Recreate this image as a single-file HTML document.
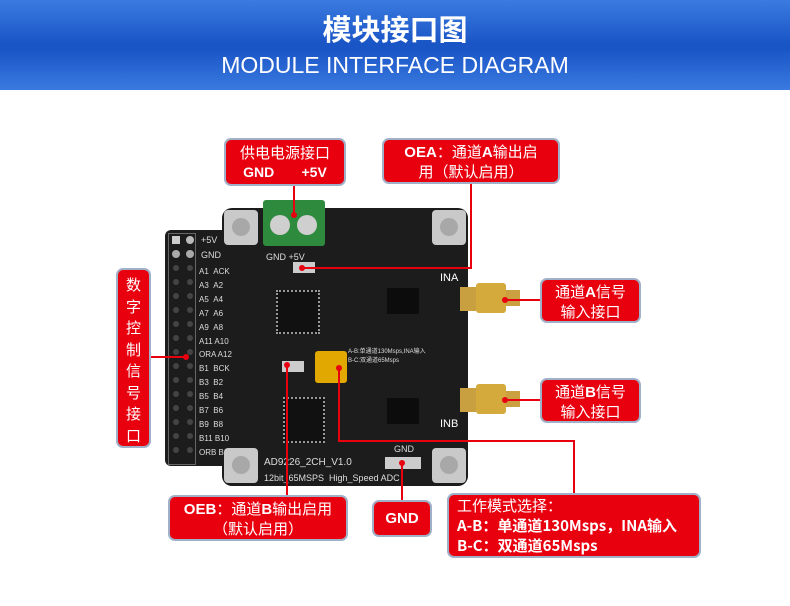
<!DOCTYPE html>
<html><head><meta charset="utf-8"><style>
*{margin:0;padding:0;box-sizing:border-box}
body{width:790px;height:606px;background:#fff;position:relative;overflow:hidden;font-family:"Liberation Sans","Noto Sans CJK SC",sans-serif}
.hdr{position:absolute;left:0;top:0;width:790px;height:90px;background:linear-gradient(#3b7be0 0%,#1a55c6 48%,#1a55c6 55%,#3a7ae0 100%)}
.t1{position:absolute;top:6px;width:790px;text-align:center;color:#fff;font-size:29px;line-height:44px;font-weight:bold;font-family:"Noto Sans CJK SC",sans-serif}
.t2{position:absolute;top:52px;width:790px;text-align:center;color:#fff;font-size:23px;line-height:26px;font-family:"Liberation Sans",sans-serif}
.box{position:absolute;background:#e8000f;border:2px solid #9fb0c8;border-radius:7px;color:#fff;font-family:"Noto Sans CJK SC",sans-serif;font-size:15px;line-height:19px;text-align:center;overflow:hidden}
.a{position:absolute}
.hole{position:absolute;width:34px;height:35px;background:#c9c9c9;border-radius:4px}
.hole:after{content:"";position:absolute;left:8px;top:8px;width:18px;height:18px;border-radius:50%;background:#a8a8a8}
.s{position:absolute;color:#ddd;font-size:8px;font-family:"Liberation Sans",sans-serif;white-space:nowrap}
.chip{position:absolute;background:#111;border:2px dotted #999}
</style></head><body>
<div class="hdr"></div>
<div class="t1">模块接口图</div>
<div class="t2">MODULE INTERFACE DIAGRAM</div>

<div class="a" style="left:222px;top:208px;width:246px;height:278px;background:#1c1c1d;border-radius:10px"></div>
<div class="a" style="left:165px;top:230px;width:70px;height:236px;background:#1c1c1d;border-radius:6px"></div>
<div class="a" style="left:168px;top:233px;width:28px;height:232px;border:1px solid #666"></div>
<svg class="a" style="left:168px;top:233px" width="30" height="232">
<rect x="4" y="3" width="8" height="8" fill="#ccc"/><circle cx="22" cy="7" r="4" fill="#bbb"/>
<circle cx="8" cy="21" r="4" fill="#aaa"/><circle cx="22" cy="21" r="4" fill="#aaa"/>
<g fill="#444">
<circle cx="8" cy="35" r="3"/><circle cx="22" cy="35" r="3"/><circle cx="8" cy="49" r="3"/><circle cx="22" cy="49" r="3"/>
<circle cx="8" cy="63" r="3"/><circle cx="22" cy="63" r="3"/><circle cx="8" cy="77" r="3"/><circle cx="22" cy="77" r="3"/>
<circle cx="8" cy="91" r="3"/><circle cx="22" cy="91" r="3"/><circle cx="8" cy="105" r="3"/><circle cx="22" cy="105" r="3"/>
<circle cx="8" cy="119" r="3"/><circle cx="22" cy="119" r="3"/><circle cx="8" cy="133" r="3"/><circle cx="22" cy="133" r="3"/>
<circle cx="8" cy="147" r="3"/><circle cx="22" cy="147" r="3"/><circle cx="8" cy="161" r="3"/><circle cx="22" cy="161" r="3"/>
<circle cx="8" cy="175" r="3"/><circle cx="22" cy="175" r="3"/><circle cx="8" cy="189" r="3"/><circle cx="22" cy="189" r="3"/>
<circle cx="8" cy="203" r="3"/><circle cx="22" cy="203" r="3"/><circle cx="8" cy="217" r="3"/><circle cx="22" cy="217" r="3"/>
</g></svg>
<div class="s" style="left:201px;top:235px;font-size:9px">+5V</div>
<div class="s" style="left:201px;top:250px;font-size:9px">GND</div>
<div class="s" style="left:199px;top:265px;line-height:13.9px">A1 &nbsp;ACK<br>A3 &nbsp;A2<br>A5 &nbsp;A4<br>A7 &nbsp;A6<br>A9 &nbsp;A8<br>A11 A10<br>ORA A12<br>B1 &nbsp;BCK<br>B3 &nbsp;B2<br>B5 &nbsp;B4<br>B7 &nbsp;B6<br>B9 &nbsp;B8<br>B11 B10<br>ORB B12</div>

<div class="hole" style="left:224px;top:210px"></div>
<div class="hole" style="left:432px;top:210px"></div>
<div class="hole" style="left:224px;top:448px"></div>
<div class="hole" style="left:432px;top:448px"></div>

<div class="a" style="left:263px;top:200px;width:62px;height:46px;background:#2e8b3e;border-radius:3px"></div>
<div class="a" style="left:270px;top:215px;width:20px;height:20px;border-radius:50%;background:#cfcfcf"></div>
<div class="a" style="left:297px;top:215px;width:20px;height:20px;border-radius:50%;background:#cfcfcf"></div>
<div class="s" style="left:266px;top:252px;font-size:9px">GND +5V</div>

<div class="chip" style="left:276px;top:290px;width:44px;height:44px"></div>
<div class="chip" style="left:283px;top:397px;width:42px;height:46px"></div>
<div class="a" style="left:387px;top:288px;width:32px;height:26px;background:#0c0c0c"></div>
<div class="a" style="left:387px;top:398px;width:32px;height:26px;background:#0c0c0c"></div>
<div class="a" style="left:315px;top:351px;width:32px;height:32px;background:#e0a800;border-radius:3px"></div>
<div class="s" style="left:348px;top:346px;font-size:6px">A-B:单通道130Msps,INA输入<br>B-C:双通道65Msps</div>
<div class="s" style="left:440px;top:272px;font-size:11px;color:#fff">INA</div>
<div class="s" style="left:440px;top:418px;font-size:11px;color:#fff">INB</div>
<div class="s" style="left:264px;top:457px;font-size:10px">AD9226_2CH_V1.0</div>
<div class="s" style="left:264px;top:473px;font-size:9px">12bit_65MSPS &nbsp;High_Speed ADC</div>
<div class="s" style="left:394px;top:444px;font-size:9px">GND</div>
<div class="a" style="left:385px;top:457px;width:36px;height:12px;background:#ccc"></div>
<div class="a" style="left:282px;top:361px;width:22px;height:11px;background:#ccc"></div>
<div class="a" style="left:293px;top:262px;width:22px;height:11px;background:#ccc"></div>

<div class="a" style="left:460px;top:287px;width:16px;height:24px;background:#c9a040"></div>
<div class="a" style="left:476px;top:283px;width:30px;height:30px;background:#d4aa3c;border-radius:3px"></div>
<div class="a" style="left:506px;top:290px;width:14px;height:16px;background:#caa040"></div>
<div class="a" style="left:460px;top:388px;width:16px;height:24px;background:#c9a040"></div>
<div class="a" style="left:476px;top:384px;width:30px;height:30px;background:#d4aa3c;border-radius:3px"></div>
<div class="a" style="left:506px;top:391px;width:14px;height:16px;background:#caa040"></div>

<svg class="a" style="left:0;top:0" width="790" height="606">
<g stroke="#e8000f" stroke-width="2" fill="none">
<path d="M294 186 V215"/>
<path d="M471 183 V268 H302"/>
<path d="M541 300 H505"/>
<path d="M541 400 H505"/>
<path d="M150 357 H186"/>
<path d="M287 496 V365"/>
<path d="M402 501 V463"/>
<path d="M574 494 V441 H339 V368"/>
</g>
<g fill="#e8000f"><circle cx="294" cy="215" r="3"/><circle cx="302" cy="268" r="3"/><circle cx="505" cy="300" r="3"/><circle cx="505" cy="400" r="3"/><circle cx="186" cy="357" r="3"/><circle cx="287" cy="365" r="3"/><circle cx="402" cy="463" r="3"/><circle cx="339" cy="368" r="3"/></g>
</svg>

<div class="box" style="left:224px;top:138px;width:122px;height:48px;padding-top:3px">供电电源接口<br><b style="font-family:'Liberation Sans';font-size:14px">GND&nbsp;&nbsp;&nbsp;&nbsp;&nbsp;&nbsp;&nbsp;+5V</b></div>
<div class="box" style="left:382px;top:138px;width:178px;height:46px;padding-top:2px"><b style="font-family:'Liberation Sans'">OEA</b>：通道<b style="font-family:'Liberation Sans'">A</b>输出启<br>用（默认启用）</div>
<div class="box" style="left:540px;top:278px;width:101px;height:45px;padding-top:2px">通道<b style="font-family:'Liberation Sans'">A</b>信号<br>输入接口</div>
<div class="box" style="left:540px;top:378px;width:101px;height:45px;padding-top:2px">通道<b style="font-family:'Liberation Sans'">B</b>信号<br>输入接口</div>
<div class="box" style="left:116px;top:268px;width:35px;height:180px;padding-top:4px;line-height:21.5px">数<br>字<br>控<br>制<br>信<br>号<br>接<br>口</div>
<div class="box" style="left:168px;top:495px;width:180px;height:46px;padding-top:2px"><b style="font-family:'Liberation Sans'">OEB</b>：通道<b style="font-family:'Liberation Sans'">B</b>输出启用<br>（默认启用）</div>
<div class="box" style="left:372px;top:500px;width:60px;height:37px;padding-top:7px;font-weight:bold;font-family:'Liberation Sans'">GND</div>
<div class="box" style="left:447px;top:493px;width:254px;height:65px;padding:1px 0 0 8px;text-align:left;line-height:20px">工作模式选择：<br><b>A-B：单通道130Msps，INA输入</b><br><b>B-C：双通道65Msps</b></div>
</body></html>
